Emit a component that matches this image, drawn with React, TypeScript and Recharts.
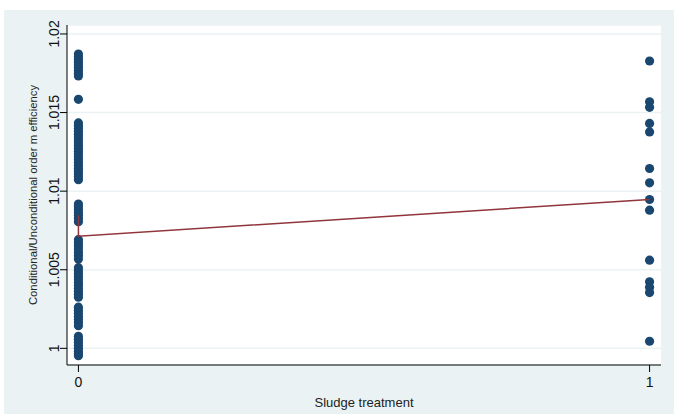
import React from 'react';
import { ScatterChart, Scatter, XAxis, YAxis, CartesianGrid, Label } from 'recharts';

// Conditional/unconditional order-m efficiency ratios by sludge treatment group
const untreatedValues = [
  1.01872, 1.01855, 1.01838, 1.0182, 1.01803, 1.01786, 1.01768, 1.0175, 1.01733,
  1.01584,
  1.01434, 1.01416, 1.01398, 1.0138, 1.01362, 1.01344, 1.01326, 1.01308, 1.0129, 1.01272,
  1.01254, 1.01236, 1.01218, 1.012, 1.01182, 1.01164, 1.01146, 1.01128, 1.0111, 1.01092, 1.01073,
  1.00918, 1.009, 1.00882, 1.00863, 1.00845, 1.00826, 1.00806,
  1.00691, 1.00672, 1.00652, 1.00632, 1.0061, 1.0059, 1.00568,
  1.00513, 1.00494, 1.00475, 1.00456, 1.00437, 1.00418, 1.004, 1.00381, 1.00362, 1.00344, 1.00325,
  1.00262, 1.00243, 1.00223, 1.00203, 1.00183, 1.00164, 1.00144,
  1.00077, 1.00058, 1.00039, 1.0002, 1.00001, 0.99982, 0.99967, 0.99953,
];

const treatedValues = [
  1.01828, 1.01568, 1.01533, 1.01431, 1.01377, 1.01144, 1.01053, 1.00947, 1.00879,
  1.00561, 1.00423, 1.00389, 1.00355, 1.00045,
];

// Fitted values (drawn in data order)
const fitX = [0, 0, 1];
const fitY = [1.00847, 1.00713, 1.00947];

const xTicks = [0, 1];
const xTickLabels = ['0', '1'];
const yTicks = [1, 1.005, 1.01, 1.015, 1.02];
const yTickLabels = ['1', '1.005', '1.01', '1.015', '1.02'];

const xTitle = 'Sludge treatment';
const yTitle = 'Conditional/Unconditional order m efficiency';

const points = [
  ...untreatedValues.map((y) => ({ x: 0, y })),
  ...treatedValues.map((y) => ({ x: 1, y })),
];
const fitLine = fitX.map((x, i) => ({ x, y: fitY[i] }));

const FONT = '"Liberation Sans", Arial, sans-serif';
const NAVY = '#1a476f';
const MAROON = '#90353b';
const PANEL = '#eaf2f3';

const Dot = (props: any) => <circle cx={props.cx} cy={props.cy} r={4.6} fill={NAVY} />;
const NoMark = () => <g />;

const YTick = (props: any) => {
  const { x, y, payload } = props;
  const i = yTicks.indexOf(payload.value);
  const bx = x + 1;
  return (
    <text
      x={bx}
      y={y}
      transform={`rotate(-90, ${bx}, ${y})`}
      textAnchor="middle"
      fontFamily={FONT}
      fontSize={14}
      fill="#111"
    >
      {i >= 0 ? yTickLabels[i] : payload.value}
    </text>
  );
};

const XTick = (props: any) => {
  const { x, y, payload } = props;
  const i = xTicks.indexOf(payload.value);
  return (
    <text x={x} y={y} dy="0.71em" textAnchor="middle" fontFamily={FONT} fontSize={14} fill="#111">
      {i >= 0 ? xTickLabels[i] : payload.value}
    </text>
  );
};

export default function App() {
  return (
    <div style={{ position: 'absolute', left: 0, top: 0, width: 674, height: 414, background: '#fff' }}>
      <div style={{ position: 'absolute', left: 4, top: 10, width: 670, height: 404, background: PANEL }} />
      <div style={{ position: 'absolute', left: 0, top: 0 }}>
        <ScatterChart width={674} height={414} margin={{ top: 25, right: 13, bottom: 0, left: 0 }}>
          <CartesianGrid vertical={false} stroke={PANEL} strokeWidth={1.5} fill="#ffffff" />
          <XAxis
            type="number"
            dataKey="x"
            domain={[-0.02, 1.02]}
            allowDataOverflow
            ticks={xTicks}
            height={49}
            tickSize={7}
            tickMargin={5}
            tick={<XTick />}
            axisLine={{ stroke: '#000', strokeWidth: 1 }}
            tickLine={{ stroke: '#000', strokeWidth: 1 }}
          >
            <Label
              content={(p: any) => {
                const vb = p.viewBox || {};
                return (
                  <text
                    x={vb.x + vb.width / 2}
                    y={vb.y + 37}
                    textAnchor="middle"
                    dominantBaseline="central"
                    fontFamily={FONT}
                    fontSize={13}
                    fill="#222"
                  >
                    {xTitle}
                  </text>
                );
              }}
            />
          </XAxis>
          <YAxis
            type="number"
            dataKey="y"
            domain={[0.99894, 1.02057]}
            allowDataOverflow
            ticks={yTicks}
            width={67}
            tickSize={7}
            tickMargin={2}
            tick={<YTick />}
            axisLine={{ stroke: '#000', strokeWidth: 1 }}
            tickLine={{ stroke: '#000', strokeWidth: 1 }}
          >
            <Label
              content={(p: any) => {
                const vb = p.viewBox || {};
                const cx = vb.x + vb.width - 34;
                const cy = vb.y + vb.height / 2;
                return (
                  <text
                    x={cx}
                    y={cy}
                    transform={`rotate(-90, ${cx}, ${cy})`}
                    textAnchor="middle"
                    dominantBaseline="central"
                    fontFamily={FONT}
                    fontSize={11.3}
                    fill="#222"
                  >
                    {yTitle}
                  </text>
                );
              }}
            />
          </YAxis>
          <Scatter data={points} shape={<Dot />} isAnimationActive={false} />
          <Scatter
            data={fitLine}
            shape={<NoMark />}
            line={{ stroke: MAROON, strokeWidth: 1.5 }}
            lineJointType="linear"
            isAnimationActive={false}
          />
        </ScatterChart>
      </div>
    </div>
  );
}
